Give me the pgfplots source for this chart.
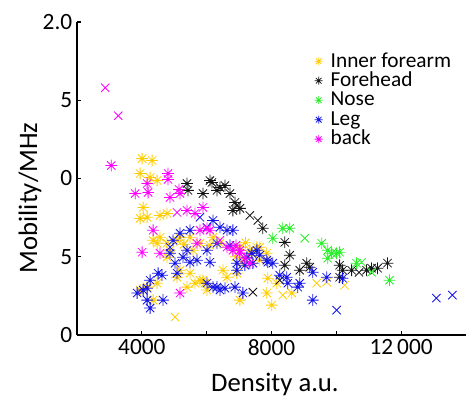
\documentclass[border=0pt]{standalone}
\usepackage{pgfplots}
\pgfplotsset{compat=1.18}
\usepackage{fontspec}
\setmainfont{Carlito}
\definecolor{cYel}{RGB}{255,204,0}
\definecolor{cBlk}{RGB}{20,20,20}
\definecolor{cGrn}{RGB}{40,240,40}
\definecolor{cBlu}{RGB}{20,20,230}
\definecolor{cMag}{RGB}{255,0,255}
\pgfdeclareplotmark{star8}{%
  \pgfpathmoveto{\pgfqpoint{0pt}{\pgfplotmarksize}}\pgfpathlineto{\pgfqpoint{0pt}{-\pgfplotmarksize}}%
  \pgfpathmoveto{\pgfqpoint{\pgfplotmarksize}{0pt}}\pgfpathlineto{\pgfqpoint{-\pgfplotmarksize}{0pt}}%
  \pgfpathmoveto{\pgfqpoint{0.707\pgfplotmarksize}{0.707\pgfplotmarksize}}\pgfpathlineto{\pgfqpoint{-0.707\pgfplotmarksize}{-0.707\pgfplotmarksize}}%
  \pgfpathmoveto{\pgfqpoint{0.707\pgfplotmarksize}{-0.707\pgfplotmarksize}}\pgfpathlineto{\pgfqpoint{-0.707\pgfplotmarksize}{0.707\pgfplotmarksize}}%
  \pgfusepathqstroke}
\pgfplotstableread{
x y
3948 1.032
4009 1.127
4317 1.115
4255 1.006
4471 0.987
4040 0.815
4163 0.752
3948 0.745
4563 0.764
4778 0.777
4348 0.605
4471 0.586
4563 0.624
4778 0.586
5086 0.605
4778 0.497
5486 0.624
5578 0.541
5794 0.586
3948 0.287
4163 0.306
4471 0.331
5086 0.369
5178 0.414
5486 0.395
5394 0.306
5640 0.331
5948 0.331
5794 0.350
6502 0.414
6625 0.369
6932 0.395
7025 0.223
7332 0.541
7640 0.561
7856 0.522
6101 0.573
6194 0.624
6409 0.586
5886 0.350
6009 0.287
7025 0.561
7548 0.561
7640 0.478
7886 0.363
8163 0.331
7856 0.268
8009 0.191
8625 0.268
5178 0.624
4871 0.541
4348 0.223
7200 0.590
7400 0.520
6900 0.500
7100 0.470
5300 0.580
}\forearmS
\pgfplotstableread{
x y
5025 0.115
8348 0.255
9394 0.331
9702 0.338
10255 0.318
}\forearmX
\pgfplotstableread{
x y
5394 0.968
5425 0.924
5886 0.904
6101 0.987
6163 0.975
6317 0.924
6409 0.943
6563 0.955
6717 0.904
6871 0.847
6809 0.796
7025 0.809
7732 0.682
8409 0.592
8563 0.510
8409 0.446
9086 0.459
9179 0.433
10102 0.446
10194 0.414
10102 0.369
10471 0.414
10932 0.414
11086 0.427
11271 0.427
11578 0.459
8871 0.414
}\foreheadS
\pgfplotstableread{
x y
6932 0.828
7332 0.764
7579 0.732
8255 0.350
7425 0.274
10700 0.400
}\foreheadX
\pgfplotstableread{
x y
8040 0.618
8348 0.682
8563 0.682
9548 0.586
9732 0.541
9855 0.522
10009 0.522
9732 0.490
10102 0.529
10625 0.459
11640 0.350
}\noseS
\pgfplotstableread{
x y
9025 0.618
10779 0.465
11086 0.401
}\noseX
\pgfplotstableread{
x y
3855 0.268
4040 0.287
4163 0.299
4163 0.223
4255 0.350
4255 0.172
4502 0.395
4625 0.382
4655 0.223
4963 0.605
4871 0.522
5025 0.459
5086 0.395
5178 0.650
5271 0.497
5394 0.541
5486 0.669
5486 0.465
5701 0.478
6009 0.541
6009 0.331
6101 0.465
6194 0.732
6194 0.306
6317 0.586
6317 0.306
6409 0.688
6409 0.287
6563 0.299
6625 0.669
6809 0.669
6871 0.306
6932 0.459
6932 0.414
7117 0.268
7240 0.497
7394 0.522
7425 0.459
7640 0.510
7856 0.478
7886 0.465
8040 0.459
8255 0.382
8471 0.369
8502 0.331
8809 0.306
8871 0.331
9271 0.401
9271 0.223
9702 0.369
10194 0.363
6717 0.573
7179 0.446
7548 0.541
}\legS
\pgfplotstableread{
x y
13086 0.236
13579 0.255
10009 0.159
6009 0.688
5794 0.752
4871 0.561
}\legX
\pgfplotstableread{
x y
3055 1.083
3794 0.904
4163 0.968
4194 0.911
4348 0.669
4009 0.529
4563 0.522
4809 1.032
4809 0.994
4871 0.879
5148 0.930
5178 0.904
5394 0.796
5886 0.815
6009 0.682
5794 0.669
6101 0.669
5178 0.268
5701 0.586
6625 0.561
6809 0.541
7025 0.541
7025 0.522
7332 0.459
6902 0.573
7179 0.490
5640 0.777
}\backS
\pgfplotstableread{
x y
2871 1.580
3271 1.401
5086 0.783
6409 0.605
}\backX
\begin{document}
\begin{tikzpicture}
\begin{axis}[
  scale only axis,
  width=291.75pt, height=234.75pt,
  xmin=2000, xmax=14000, ymin=0, ymax=2,
  axis x line*=bottom, axis y line*=left,
  axis line style={line width=0.8pt},
  scaled x ticks=false, scaled y ticks=false,
  xtick={4000,6000,8000,10000,12000},
  xticklabels={4000,,8000,,12\,000},
  ytick={0,0.5,1,1.5,2},
  yticklabels={0,5,0,5,2.0},
  tick align=inside,
  major tick length=3pt,
  tick style={line width=0.8pt, black},
  tick label style={font=\fontsize{17.5}{20}\selectfont},
  /pgf/number format/assume math mode=true,
  xlabel={Density a.u.},
  ylabel={Mobility/MHz},
  label style={font=\fontsize{20}{24}\selectfont},
  xlabel style={at={(axis description cs:0.509,-0.157)}, anchor=center},
  ylabel style={at={(axis description cs:-0.121,0.438)}, anchor=center, rotate=0},
  mark size=4.4pt,
  every axis plot/.append style={only marks, line width=0.6pt},
  legend style={draw=none, fill=none, at={(axis description cs:0.60,0.915)}, anchor=north west,
    font=\fontsize{16}{17}\selectfont, row sep=0pt,
    nodes={text height=11.6pt, text depth=3pt, inner sep=0pt},
    /tikz/every odd column/.append style={column sep=6pt}},
  legend cell align=left,
  legend image code/.code={\draw[#1, mark size=3pt] plot coordinates {(0cm,0cm)};},
]
\addplot[cYel, mark=star8] table {\forearmS};
\addlegendentry{Inner forearm}
\addplot[cYel, mark=x, forget plot] table {\forearmX};
\addplot[cBlk, mark=star8] table {\foreheadS};
\addlegendentry{Forehead}
\addplot[cBlk, mark=x, forget plot] table {\foreheadX};
\addplot[cGrn, mark=star8] table {\noseS};
\addlegendentry{Nose}
\addplot[cGrn, mark=x, forget plot] table {\noseX};
\addplot[cBlu, mark=star8] table {\legS};
\addlegendentry{Leg}
\addplot[cBlu, mark=x, forget plot] table {\legX};
\addplot[cMag, mark=star8] table {\backS};
\addlegendentry{back}
\addplot[cMag, mark=x, forget plot] table {\backX};
\end{axis}
\pgfresetboundingbox
\path (current axis.south west) ++(-57.75pt,-45.75pt) rectangle ++(349.5pt,297pt);
\end{tikzpicture}
\end{document}
